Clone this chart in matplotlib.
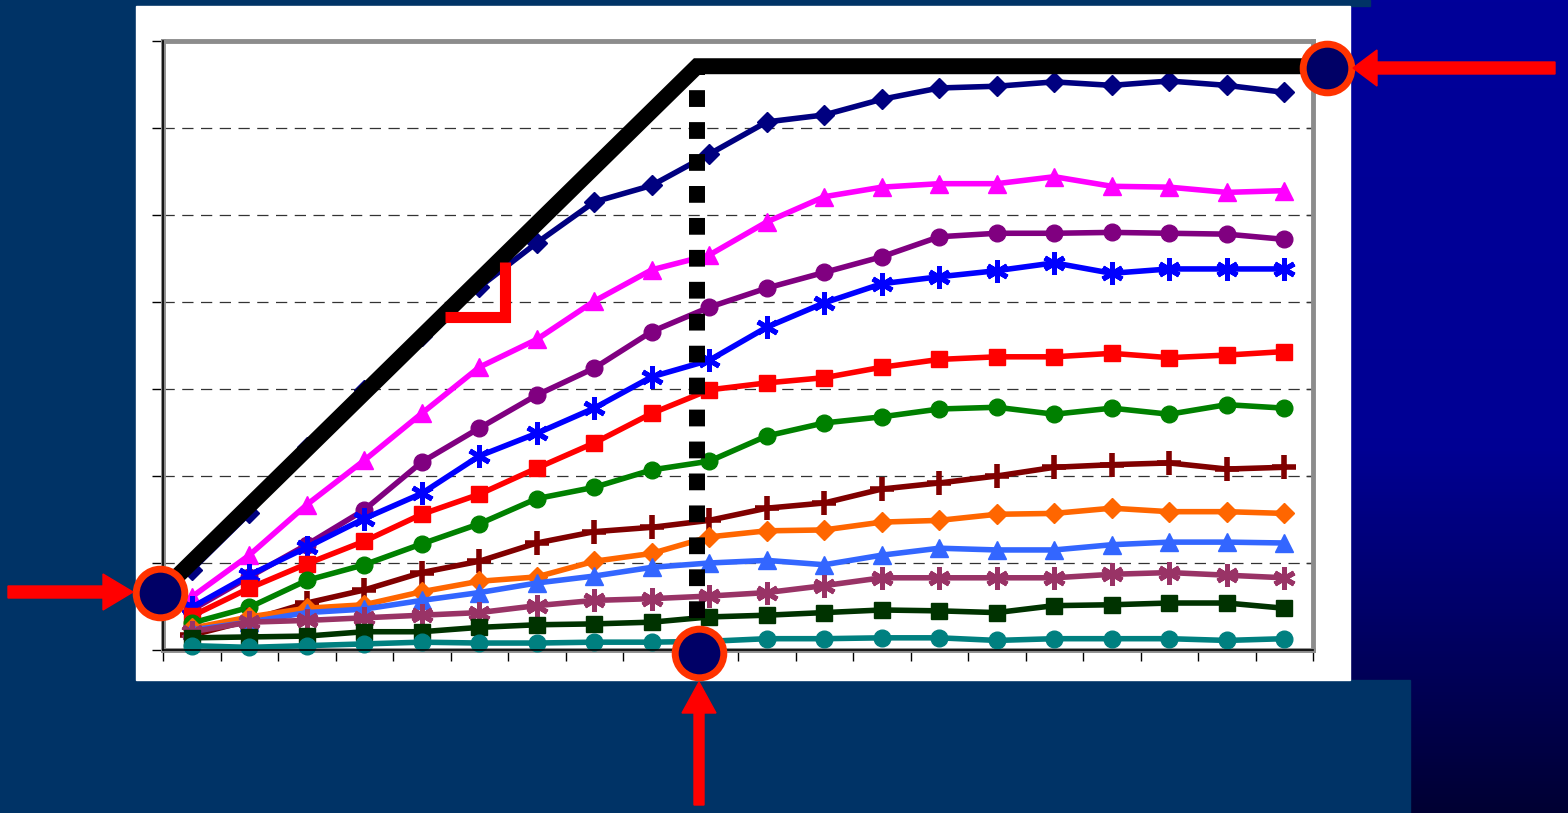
import numpy as np
import matplotlib
matplotlib.use("Agg")
import matplotlib.pyplot as plt
from matplotlib.patches import Rectangle, Polygon
from matplotlib.colors import LinearSegmentedColormap

# ---------------- data ----------------
categories = list(range(1, 21))

navy_vals = [0.92, 1.57, 2.33, 2.99, 3.61, 4.17, 4.68, 5.15, 5.34, 5.70,
             6.07, 6.15, 6.33, 6.46, 6.48, 6.53, 6.49, 6.54, 6.49, 6.41]
magenta_vals = [0.61, 1.09, 1.67, 2.18, 2.72, 3.25, 3.57, 4.01, 4.37, 4.54,
                4.92, 5.21, 5.32, 5.36, 5.36, 5.44, 5.33, 5.32, 5.26, 5.28]
purple_vals = [0.46, 0.84, 1.21, 1.61, 2.16, 2.55, 2.93, 3.24, 3.66, 3.94,
               4.16, 4.34, 4.52, 4.75, 4.79, 4.79, 4.80, 4.79, 4.78, 4.72]
blue_vals = [0.49, 0.86, 1.18, 1.51, 1.80, 2.23, 2.49, 2.78, 3.14, 3.33,
             3.71, 3.99, 4.21, 4.29, 4.36, 4.45, 4.33, 4.38, 4.38, 4.38]
red_vals = [0.39, 0.71, 0.99, 1.25, 1.56, 1.79, 2.09, 2.38, 2.72, 2.99,
            3.07, 3.13, 3.25, 3.34, 3.37, 3.37, 3.41, 3.36, 3.39, 3.43]
green_vals = [0.31, 0.49, 0.80, 0.98, 1.22, 1.45, 1.74, 1.87, 2.07, 2.17,
              2.46, 2.61, 2.68, 2.77, 2.79, 2.71, 2.78, 2.71, 2.82, 2.78]
darkred_vals = [0.17, 0.34, 0.54, 0.69, 0.89, 1.02, 1.23, 1.36, 1.41, 1.49,
                1.63, 1.69, 1.85, 1.92, 2.00, 2.10, 2.13, 2.15, 2.08, 2.10]
orange_vals = [0.25, 0.38, 0.48, 0.52, 0.67, 0.79, 0.84, 1.02, 1.11, 1.30,
               1.37, 1.38, 1.47, 1.49, 1.56, 1.57, 1.63, 1.59, 1.59, 1.57]
lightblue_vals = [0.23, 0.32, 0.43, 0.47, 0.57, 0.66, 0.77, 0.85, 0.95, 1.00,
                  1.03, 0.98, 1.09, 1.17, 1.15, 1.15, 1.21, 1.24, 1.24, 1.23]
plum_vals = [0.21, 0.32, 0.34, 0.37, 0.40, 0.43, 0.51, 0.57, 0.59, 0.62,
             0.66, 0.74, 0.83, 0.83, 0.83, 0.83, 0.87, 0.89, 0.86, 0.83]
darkgreen_vals = [0.14, 0.15, 0.16, 0.21, 0.21, 0.26, 0.29, 0.30, 0.32, 0.38,
                  0.40, 0.43, 0.46, 0.45, 0.43, 0.51, 0.52, 0.54, 0.54, 0.48]
teal_vals = [0.05, 0.03, 0.05, 0.07, 0.09, 0.08, 0.08, 0.09, 0.09, 0.10,
             0.13, 0.13, 0.14, 0.14, 0.11, 0.13, 0.13, 0.13, 0.11, 0.13]

# roofline annotation (x in category index units, y in value units)
roof_x = [-0.55, 8.79, 19.74]
roof_y = [0.655, 6.71, 6.71]
ridge_x = 8.79
ridge_y = [0.0, 6.62]
elbow_x = [4.40, 5.45, 5.45]
elbow_y = [3.83, 3.83, 4.46]
circle_x = [-0.55, 8.82, 19.74]
circle_y = [0.655, -0.03, 6.69]

series = [
    (navy_vals, "#000080", "D", 10.5, 1.0),
    (magenta_vals, "#FF00FF", "^", 13, 1.0),
    (purple_vals, "#800080", "o", 12, 1.0),
    (blue_vals, "#0000FF", (6, 2, 0), 16, 3.6),
    (red_vals, "#FF0000", "s", 11.5, 1.0),
    (green_vals, "#008000", "o", 12, 1.0),
    (darkred_vals, "#800000", "+", 17, 4.0),
    (orange_vals, "#FF6600", "D", 10.5, 1.0),
    (lightblue_vals, "#3366FF", "^", 13, 1.0),
    (plum_vals, "#993366", (6, 2, 0), 16, 3.6),
    (darkgreen_vals, "#003300", "s", 11.5, 1.0),
    (teal_vals, "#008080", "o", 12, 1.0),
]

W, H = 1568, 813
fig = plt.figure(figsize=(W / 100, H / 100), dpi=100)

# ---------------- background ----------------
bg = fig.add_axes([0, 0, 1, 1], zorder=0)
bg.set_xlim(0, W)
bg.set_ylim(H, 0)
bg.axis("off")
grad_cmap = LinearSegmentedColormap.from_list(
    "g", [(0.0, (0, 0, 0.60)), (0.55, (0, 0, 0.58)), (1.0, (0, 0, 0.20))])
grad = np.linspace(0, 1, 256).reshape(-1, 1)
bg.imshow(grad, cmap=grad_cmap, extent=(0, W, H, 0), aspect="auto", zorder=0)
navy_bg = "#003366"
bg.add_patch(Rectangle((0, 0), 1370, 6, color=navy_bg, zorder=1))
bg.add_patch(Rectangle((0, 0), 136, H, color=navy_bg, zorder=1))
bg.add_patch(Rectangle((0, 680), 1410, H - 680, color=navy_bg, zorder=1))
bg.add_patch(Rectangle((136, 6), 1350 - 136, 674, color="white", zorder=2))

# ---------------- main chart ----------------
ax = fig.add_axes([163 / W, 1 - 650 / H, 1150 / W, 609 / H], zorder=1)
ax.set_facecolor("white")
x = np.arange(len(categories))
ax.set_xlim(-0.5, len(categories) - 0.5)
ax.set_ylim(0, 7)

for yv in range(1, 7):
    ax.axhline(yv, color="#333333", lw=0.9, dashes=(9, 6), zorder=1)

for vals, col, mk, ms, mew in series:
    ax.plot(x, vals, color=col, lw=4.0, marker=mk, ms=ms,
            markeredgewidth=mew, markeredgecolor=col, markerfacecolor=col,
            zorder=3, clip_on=False)

for sp in ax.spines.values():
    sp.set_color("#8c8c8c")
    sp.set_linewidth(3.5)
ax.axvline(-0.5, color="black", lw=1.2, zorder=4, clip_on=False)
ax.axhline(0, color="black", lw=1.2, zorder=4, clip_on=False)

ax.set_xticks(np.arange(-0.5, len(categories), 1.0))
ax.set_yticks(range(0, 8))
ax.tick_params(axis="both", direction="out", length=8, width=1, color="black",
               labelbottom=False, labelleft=False)
sec = ax.secondary_yaxis("right")
sec.set_yticks(range(1, 7))
sec.tick_params(direction="in", length=5, width=1, color="#333333", labelright=False)
sec.spines["right"].set_visible(False)

# roofline and ridge
ax.plot(roof_x, roof_y, color="black", lw=11.5, solid_joinstyle="miter",
        solid_capstyle="butt", zorder=6, clip_on=False)
ax.plot([ridge_x, ridge_x], ridge_y, color="black", lw=11.5,
        dashes=(1.05, 0.95), dash_capstyle="butt", zorder=6, clip_on=False)
ax.plot(elbow_x, elbow_y, color="#FF0000", lw=8, solid_joinstyle="miter",
        solid_capstyle="butt", zorder=7, clip_on=False)
ax.plot(circle_x, circle_y, ls="none", marker="o", ms=35, mfc="#000066",
        mec="#FF3300", mew=5, zorder=9, clip_on=False)

# ---------------- arrows (overlay) ----------------
ov = fig.add_axes([0, 0, 1, 1], zorder=2)
ov.set_xlim(0, W)
ov.set_ylim(H, 0)
ov.axis("off")
ov.patch.set_alpha(0)
red = "#FF0000"
# left arrow -> pointing right
ov.add_patch(Polygon([(8, 586), (103, 586), (103, 574), (133, 592),
                      (103, 610), (103, 598), (8, 598)], closed=True, color=red))
# right arrow -> pointing left
ov.add_patch(Polygon([(1555, 62), (1377, 62), (1377, 50), (1353, 68),
                      (1377, 86), (1377, 74), (1555, 74)], closed=True, color=red))
# bottom arrow -> pointing up
ov.add_patch(Polygon([(694, 805), (694, 713), (682, 713), (699, 682),
                      (716, 713), (704, 713), (704, 805)], closed=True, color=red))

fig.savefig("out.png", dpi=100)
